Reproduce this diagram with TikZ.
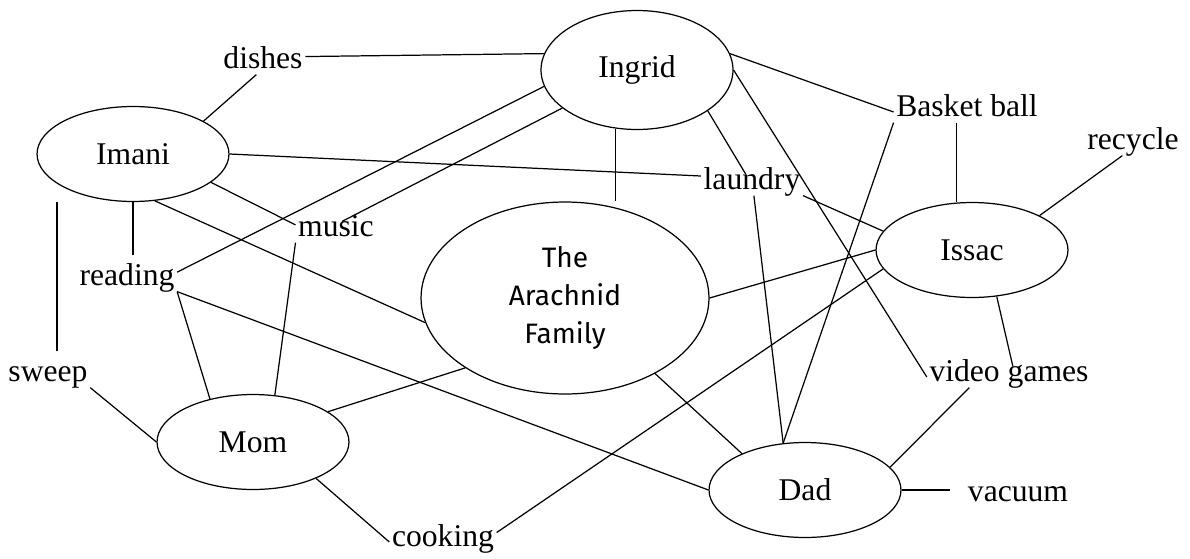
\documentclass[tikz,border=0pt]{standalone}
\usepackage{fontspec}
\setmainfont{Liberation Serif}
\newfontfamily\comicfont{Fira Sans}
\usetikzlibrary{shapes.geometric}

\begin{document}
\begin{tikzpicture}[x=0.02cm, y=-0.02cm, line width=0.7pt,
  font=\fontsize{18}{21}\selectfont,
  member/.style={shape=ellipse, draw, inner sep=0pt, minimum width=3.84cm, minimum height=1.9cm},
  chore/.style={inner sep=1.2pt, text height=0.7em, text depth=0.2em}]
\useasboundingbox (0,0) rectangle (1190,558);
% family members
\node[member] (imani) at (133,154) {Imani};
\node[member, minimum height=2.38cm] (ingrid) at (637,70) {Ingrid};
\node[member] (issac) at (972,250) {Issac};
\node[member] (mom) at (253,442) {Mom};
\node[member] (dad) at (805,490) {Dad};
\node[member, minimum width=5.76cm, minimum height=3.84cm, align=center,
  font=\comicfont\fontsize{16}{21.6}\selectfont] (family) at (565,298) {The\\Arachnid\\Family};
% chores and hobbies
\node[chore] (dishes) at (263,64) {dishes};
\node[chore] (reading) at (127,281) {reading};
\node[chore] (music) at (336,232) {music};
\node[chore] (sweep) at (48,377) {sweep};
\node[chore] (cooking) at (443,542) {cooking};
\node[chore] (laundry) at (752,185) {laundry};
\node[chore] (basket) at (967,112) {Basket ball};
\node[chore] (recycle) at (1133,145) {recycle};
\node[chore] (video) at (1009,377) {video games};
\node[chore] (vacuum) at (1018,497) {vacuum};
% links
\draw (dishes.10) -- (ingrid.170);
\draw (dishes.-122) -- (imani.25);
\draw (imani.east) -- (laundry.170);
\draw (imani.-20) -- (music.170);
\draw (imani.-65) -- (family.190);
\draw[shorten >=0.3cm] (imani.south) -- (imani.south |- reading.north);
\draw[shorten <=0.3cm] (sweep.50) -- (sweep.50 |- imani.south);
\draw (ingrid.190) -- (reading.10);
\draw (ingrid.207) -- (music.60);
\draw (ingrid.-110) -- (ingrid.-110 |- family.north);
\draw (ingrid.-30) -- (laundry.120);
\draw (ingrid.10) -- (basket.west);
\draw (ingrid.east) -- (video.west);
\draw (reading.south east) -- (mom.135);
\draw (reading.south east) -- (dad.west);
\draw (music.south west) -- (mom.65);
\draw (sweep.south east) -- (mom.west);
\draw (family.-145) -- (mom.22);
\draw (mom.-30) -- (cooking.west);
\draw (cooking.10) -- (issac.-168);
\draw (laundry.south east) -- (issac.168);
\draw (laundry.-80) -- (dad.115);
\draw (basket.south west) -- (dad.115);
\draw (basket.-135) -- (basket.-135 |- issac.north);
\draw (recycle.-135) -- (issac.27);
\draw (family.east) -- (issac.west);
\draw (family.-40) -- (dad.150);
\draw (issac.-62) -- (video.70);
\draw (video.-165) -- (dad.15);
\draw[shorten >=0.3cm] (dad.east) -- (dad.east -| vacuum.west);
\end{tikzpicture}
\end{document}
